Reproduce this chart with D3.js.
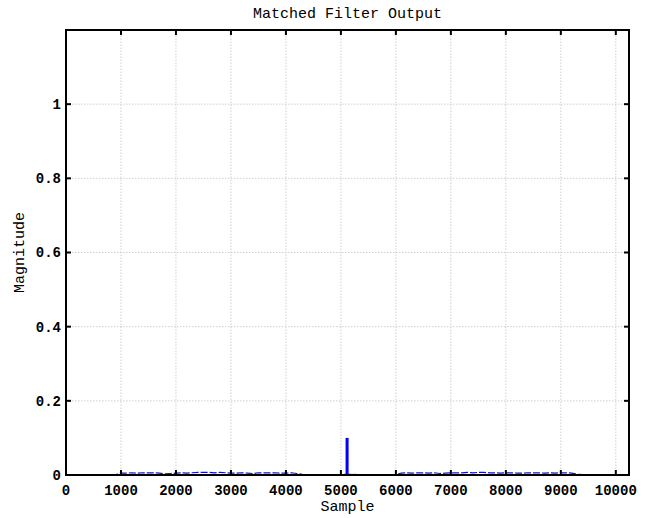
<!DOCTYPE html>
<html>
<head>
<meta charset="utf-8">
<script src="https://cdn.jsdelivr.net/npm/d3@7"></script>
<style>
  body { margin: 0; background: #fff; }
  text { font-family: "Liberation Mono", "DejaVu Sans Mono", monospace; fill: #000; }
</style>
</head>
<body>
<svg id="chart"></svg>
<script>
// x ticks and y ticks
const xTicks = [0, 1000, 2000, 3000, 4000, 5000, 6000, 7000, 8000, 9000, 10000];
const yTicks = [0, 0.2, 0.4, 0.6, 0.8, 1];

// low-level matched filter output (every 100 samples)
const noiseSamples = d3.range(0, 10300, 100);
const noiseValues = [
  0.001, 0.001, 0.001, 0.001, 0.001, 0.001, 0.001, 0.001, 0.001, 0.001,
  0.005, 0.005, 0.006, 0.005, 0.006, 0.006, 0.006, 0.005, 0.003, 0.004,
  0.005, 0.006, 0.005, 0.006, 0.007, 0.007, 0.007, 0.006, 0.007, 0.006,
  0.005, 0.005, 0.006, 0.005, 0.004, 0.006, 0.006, 0.006, 0.006, 0.005,
  0.005, 0.006, 0.004, 0.002, 0.001, 0.001, 0.001, 0.001, 0.001, 0.001,
  0.001, 0.002, 0.002, 0.001, 0.001, 0.001, 0.001, 0.001, 0.001, 0.001,
  0.002, 0.005, 0.006, 0.005, 0.006, 0.006, 0.005, 0.006, 0.004, 0.005,
  0.006, 0.006, 0.006, 0.007, 0.006, 0.007, 0.007, 0.006, 0.006, 0.005,
  0.006, 0.006, 0.005, 0.005, 0.006, 0.006, 0.006, 0.005, 0.006, 0.005,
  0.006, 0.006, 0.005, 0.002, 0.001, 0.001, 0.001, 0.001, 0.001, 0.001,
  0.001, 0.001, 0.001
];

// the correlation peak
const peakStart = 5085;
const peakEnd = 5140;
const peakValue = 0.1;

const width = 652, height = 518;
const margin = { top: 30, right: 23, bottom: 43, left: 66 };

const svg = d3.select("#chart").attr("width", width).attr("height", height);

const x = d3.scaleLinear().domain([0, 10240]).range([margin.left, width - margin.right]);
const y = d3.scaleLinear().domain([0, 1.2]).range([height - margin.bottom, margin.top]);

// grid
svg.append("g")
  .selectAll("line")
  .data(xTicks.slice(1))
  .enter()
  .append("line")
  .attr("x1", (d) => x(d)).attr("x2", (d) => x(d))
  .attr("y1", y(0)).attr("y2", y(1.2))
  .style("stroke", "#c4c4c4").style("stroke-dasharray", "1.5,1.5").style("stroke-width", 0.8);

svg.append("g")
  .selectAll("line")
  .data(yTicks.slice(1))
  .enter()
  .append("line")
  .attr("x1", x(0)).attr("x2", x(10240))
  .attr("y1", (d) => y(d)).attr("y2", (d) => y(d))
  .style("stroke", "#c4c4c4").style("stroke-dasharray", "1.5,1.5").style("stroke-width", 0.8);

// data
const noise = noiseSamples.map((s, i) => ({ s: s, v: noiseValues[i] }));
const line = d3.line().x((d) => x(d.s)).y((d) => y(d.v));

svg.append("path")
  .datum(noise)
  .attr("d", line)
  .style("fill", "none")
  .style("stroke", "#1010c8")
  .style("stroke-width", 1.2)
  .style("stroke-dasharray", "7,2");

svg.append("rect")
  .attr("x", x(peakStart))
  .attr("y", y(peakValue))
  .attr("width", x(peakEnd) - x(peakStart))
  .attr("height", y(0) - y(peakValue))
  .style("fill", "#0000ff");

// inward ticks on all sides
const tickLen = 5;
const ticks = svg.append("g").style("stroke", "#000").style("stroke-width", 2);
xTicks.forEach((t) => {
  ticks.append("line").attr("x1", x(t)).attr("x2", x(t)).attr("y1", y(0)).attr("y2", y(0) - tickLen);
  ticks.append("line").attr("x1", x(t)).attr("x2", x(t)).attr("y1", y(1.2)).attr("y2", y(1.2) + tickLen);
});
yTicks.forEach((t) => {
  ticks.append("line").attr("x1", x(0)).attr("x2", x(0) + tickLen).attr("y1", y(t)).attr("y2", y(t));
  ticks.append("line").attr("x1", x(10240)).attr("x2", x(10240) - tickLen).attr("y1", y(t)).attr("y2", y(t));
});

// frame
svg.append("rect")
  .attr("x", x(0)).attr("y", y(1.2))
  .attr("width", x(10240) - x(0)).attr("height", y(0) - y(1.2))
  .style("fill", "none").style("stroke", "#000").style("stroke-width", 2);

// tick labels
svg.append("g")
  .selectAll("text")
  .data(xTicks)
  .enter()
  .append("text")
  .attr("x", (d) => x(d))
  .attr("y", y(0) + 20)
  .style("text-anchor", "middle")
  .style("font-size", "14px")
  .style("font-weight", "bold")
  .text((d) => d);

svg.append("g")
  .selectAll("text")
  .data(yTicks)
  .enter()
  .append("text")
  .attr("x", x(0) - 5)
  .attr("y", (d) => y(d))
  .attr("dy", "0.35em")
  .style("text-anchor", "end")
  .style("font-size", "14px")
  .style("font-weight", "bold")
  .text((d) => d);

// titles
svg.append("text")
  .attr("x", (x(0) + x(10240)) / 2)
  .attr("y", 18)
  .style("text-anchor", "middle")
  .style("font-size", "15px")
  .text("Matched Filter Output");

svg.append("text")
  .attr("x", (x(0) + x(10240)) / 2)
  .attr("y", 511)
  .style("text-anchor", "middle")
  .style("font-size", "15px")
  .text("Sample");

svg.append("text")
  .attr("transform", `translate(24, ${(y(0) + y(1.2)) / 2}) rotate(-90)`)
  .style("text-anchor", "middle")
  .style("font-size", "15px")
  .text("Magnitude");
</script>
</body>
</html>
